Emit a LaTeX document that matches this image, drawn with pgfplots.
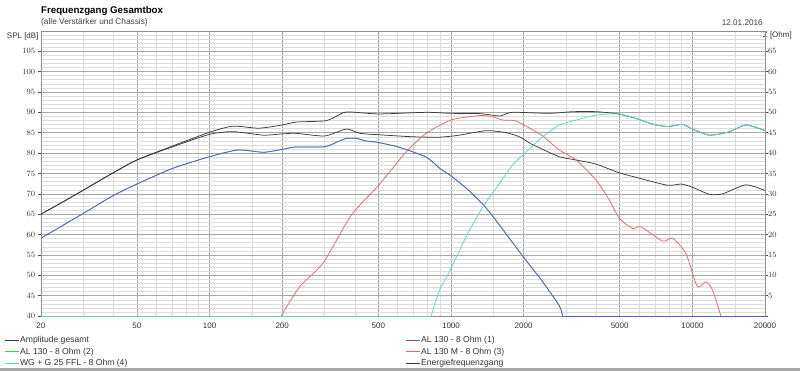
\documentclass[border=0pt]{standalone}
\usepackage{fontspec}
\setmainfont{Liberation Sans}
\usepackage{pgfplots}
\pgfplotsset{compat=1.18}
\definecolor{gmajor}{HTML}{A8A8A8}
\definecolor{gminor}{HTML}{DCDCDC}
\definecolor{gaxis}{HTML}{909090}
\definecolor{cblack}{HTML}{3A3A3A}
\definecolor{cblue}{HTML}{5A5AD0}
\definecolor{cgreen}{HTML}{4CC84C}
\definecolor{cred}{HTML}{E06868}
\definecolor{cteal}{HTML}{5CD6CC}
\pgfplotsset{curve/.style={line width=0.75pt, smooth, tension=0.4},
  flat/.style={line width=0.75pt}}
\begin{document}
\begin{tikzpicture}
\path[use as bounding box] (0pt,0pt) rectangle (800pt,371pt);
\fill[black!35] (0pt,0pt) rectangle (800pt,3pt);
\node[anchor=base west,inner sep=0pt,font=\bfseries\fontsize{9.7}{11}\selectfont] at (41pt,357.3pt) {Frequenzgang Gesamtbox};
\node[anchor=base west,inner sep=0pt,font=\fontsize{8.3}{10}\selectfont,text=black!75] at (41pt,346pt) {(alle Verstärker und Chassis)};
\node[anchor=base east,inner sep=0pt,font=\fontsize{8.2}{10}\selectfont,text=black!75] at (763pt,345pt) {12.01.2016};
\node[anchor=east,inner sep=0pt,font=\fontsize{8}{10}\selectfont,text=black!80] at (38.7pt,335pt) {SPL [dB]};
\node[anchor=west,inner sep=0pt,font=\fontsize{8}{10}\selectfont,text=black!80] at (762.7pt,336pt) {Z [Ohm]};
\begin{axis}[
  at={(40.8pt,54.9pt)}, anchor=south west, scale only axis,
  width=724.2pt, height=285.3pt,
  xmode=log, xmin=20, xmax=20000, ymin=40, ymax=110,
  xtick={20,50,100,200,500,1000,2000,5000,10000,20000},
  xticklabels={20,50,100,200,500,1000,2000,5000,10000,20000},
  minor xtick={30,40,60,70,80,90,150,300,400,600,700,800,900,1500,3000,4000,6000,7000,8000,9000,15000},
  ytick={40,45,...,105},
  minor ytick={41,42,43,44,46,47,48,49,51,52,53,54,56,57,58,59,61,62,63,64,66,67,68,69,71,72,73,74,76,77,78,79,81,82,83,84,86,87,88,89,91,92,93,94,96,97,98,99,101,102,103,104,106,107,108,109},
  grid=both,
  major grid style={color=gmajor, line width=0.5pt},
  minor grid style={color=gminor, line width=0.5pt},
  axis line style={color=gaxis, line width=0.5pt},
  tick align=outside, major tick length=2.5pt, minor tick length=0pt,
  xtick style={draw=none}, ytick style={color=black!70, line width=0.5pt},
  ticklabel style={font=\fontsize{8}{9}\selectfont, text=black!80},
  xticklabel style={inner sep=0pt, yshift=-4pt},
  yticklabel style={inner sep=0pt, xshift=-3pt},
  legend style={at={(axis description cs:-0.0508,-0.068)}, anchor=north west,
    draw=none, fill=none, font=\fontsize{8.6}{10}\selectfont, inner sep=0pt,
    row sep=1.5pt, nodes={inner sep=1pt, text=black!80}},
  legend cell align=left,
  legend image code/.code={\draw[line width=0.9pt] (0pt,0pt) -- (14pt,0pt);},
]
% AL 130 - 8 Ohm (2) (hidden under (1))
\addplot[cgreen, curve, forget plot] coordinates {
(20,59.1)(30,65.2)(40,69.6)(50,72.4)(70.7,76.3)(100,79.1)(131,80.75)(167,80.2)(200,80.9)(228,81.5)(300,81.55)(340,82.8)(369,83.6)(405,83.6)(446,82.95)(500,82.6)(612,81.4)(790,79.0)(897,76.3)(1000,74.4)(1156,71.4)(1377,67.0)(1588,62.35)(1921,55.8)(2254,50.5)(2400,48.4)(2813,42.5)(2900,40)};
\addplot[cgreen, flat, forget plot] coordinates {(2900,40)(20000,40)};
% Energiefrequenzgang
\addplot[cblack, curve, forget plot] coordinates {
(20,65.0)(25,68.2)(30,70.9)(40,75.2)(50,78.3)(70,81.5)(100,84.6)(125,85.25)(167,84.4)(200,84.7)(228,84.85)(300,84.2)(369,85.9)(418,84.85)(500,84.5)(695,84.0)(897,83.9)(1085,84.4)(1400,85.5)(1693,85.0)(1921,84.0)(2113,82.5)(2400,80.9)(2813,79.1)(3299,78.3)(3990,77.3)(4950,75.2)(5841,74.05)(7890,72.1)(8969,72.4)(10020,71.6)(11740,69.9)(13340,70.0)(16660,72.2)(20000,70.8)};
% AL 130 M - 8 Ohm (3)
\addplot[cred, flat, forget plot] coordinates {(20,40)(198,40)};
\addplot[cred, curve, forget plot] coordinates {
(198,40)(236,47.2)(295,53.0)(387,64.8)(500,72.0)(653,80.3)(790,84.85)(1000,88.1)(1313,89.2)(1490,88.9)(1639,88.1)(1850,87.9)(2181,85.7)(2400,84.2)(2813,80.75)(3299,78.3)(3990,73.4)(4528,68.5)(4980,64.0)(5654,61.5)(6130,61.9)(7525,58.4)(8281,59.1)(9398,55.4)(10344,48.0)(10700,47.2)(11380,48.4)(12120,46.4)(13130,40)};
\addplot[cred, flat, forget plot] coordinates {(13130,40)(20000,40)};
% AL 130 - 8 Ohm (1)
\addplot[cblue, curve, forget plot] coordinates {
(20,59.1)(30,65.2)(40,69.6)(50,72.4)(70.7,76.3)(100,79.1)(131,80.75)(167,80.2)(200,80.9)(228,81.5)(300,81.55)(340,82.8)(369,83.6)(405,83.6)(446,82.95)(500,82.6)(612,81.4)(790,79.0)(897,76.3)(1000,74.4)(1156,71.4)(1377,67.0)(1588,62.35)(1921,55.8)(2254,50.5)(2400,48.4)(2813,42.5)(2900,40)};
\addplot[cblue, flat, forget plot] coordinates {(2900,40)(20000,40)};
% Amplitude gesamt
\addplot[cblack, curve, forget plot] coordinates {
(20,65.0)(25,68.2)(30,70.9)(40,75.2)(50,78.3)(70,81.7)(100,85.1)(125,86.6)(160,86.1)(200,86.9)(228,87.6)(300,87.9)(330,88.8)(370,90.1)(500,89.6)(790,90.0)(1000,89.75)(1300,89.7)(1490,89.3)(1600,89.1)(1800,90.0)(2550,89.75)(3200,90.15)(4000,90.15)(4950,89.6)(5840,88.5)(6840,87.1)(7890,86.5)(9100,87.05)(9850,86.1)(11740,84.4)(14200,85.2)(16660,86.9)(20000,85.5)};
% WG + G 25 FFL - 8 Ohm (4)
\addplot[cteal, flat, forget plot] coordinates {(20,40)(828,40)};
\addplot[cteal, curve, forget plot] coordinates {
(828,40)(897,46.4)(986,50.9)(1156,59.5)(1355,66.8)(1539,71.35)(1803,77.1)(2113,81.0)(2400,84.0)(2813,86.9)(3299,88.1)(3990,89.3)(4950,89.6)(5840,88.5)(6840,87.1)(7890,86.5)(9100,87.05)(9850,86.1)(11740,84.4)(14200,85.2)(16660,86.9)(20000,85.5)};
\addlegendimage{color=cblack}
\addlegendentry{Amplitude gesamt}
\addlegendimage{color=cgreen}
\addlegendentry{AL 130 - 8 Ohm (2)}
\addlegendimage{color=cteal}
\addlegendentry{WG + G 25 FFL - 8 Ohm (4)}
\end{axis}
\begin{axis}[
  at={(40.8pt,54.9pt)}, anchor=south west, scale only axis,
  width=724.2pt, height=285.3pt,
  xmode=log, xmin=20, xmax=20000, ymin=0, ymax=70,
  axis x line=none, axis y line*=right,
  axis line style={color=gaxis, line width=0.5pt},
  ytick={5,10,...,65},
  tick align=outside, major tick length=2.5pt, minor tick length=0pt,
  ytick style={color=black!70, line width=0.5pt},
  ticklabel style={font=\fontsize{8}{9}\selectfont, text=black!80},
  yticklabel style={inner sep=0pt, xshift=0.5pt},
  legend style={at={(axis description cs:0.5029,-0.068)}, anchor=north west,
    draw=none, fill=none, font=\fontsize{8.6}{10}\selectfont, inner sep=0pt,
    row sep=1.5pt, nodes={inner sep=1pt, text=black!80}},
  legend cell align=left,
  legend image code/.code={\draw[line width=0.9pt] (0pt,0pt) -- (14pt,0pt);},
]
\addlegendimage{color=cblue}
\addlegendentry{AL 130 - 8 Ohm (1)}
\addlegendimage{color=cred}
\addlegendentry{AL 130 M - 8 Ohm (3)}
\addlegendimage{color=cblack}
\addlegendentry{Energiefrequenzgang}
\end{axis}
\end{tikzpicture}
\end{document}
